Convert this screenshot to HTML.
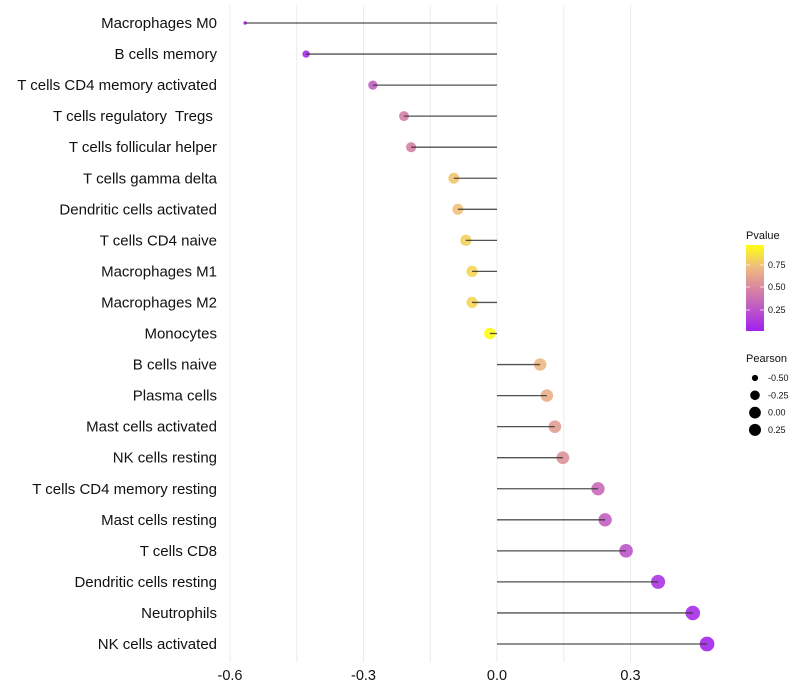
<!DOCTYPE html>
<html><head><meta charset="utf-8"><style>
html,body{margin:0;padding:0;background:#fff;}
svg{display:block;font-family:"Liberation Sans",sans-serif;}
</style></head><body>
<svg id="chart" width="800" height="700">
<defs>
<linearGradient id="pg" x1="0" y1="1" x2="0" y2="0">
<stop offset="0" stop-color="#A020F0"/>
<stop offset="0.25" stop-color="#BD55C9"/>
<stop offset="0.5" stop-color="#D8879F"/>
<stop offset="0.75" stop-color="#EFBD7E"/>
<stop offset="1" stop-color="#FFFF10"/>
</linearGradient>
</defs>
<g id="grid"></g><g id="points"></g><g id="marks"></g><g id="labels"></g>
<g>
<text x="746" y="239" font-size="11" fill="#111">Pvalue</text>
<rect x="746" y="245" width="18" height="86" fill="url(#pg)"/>
<g stroke="#fff" stroke-width="1" opacity="0.7"><line x1="746" y1="265" x2="750" y2="265"/><line x1="760" y1="265" x2="764" y2="265"/><line x1="746" y1="287" x2="750" y2="287"/><line x1="760" y1="287" x2="764" y2="287"/><line x1="746" y1="310" x2="750" y2="310"/><line x1="760" y1="310" x2="764" y2="310"/></g>
<g font-size="9" fill="#111"><text x="768" y="268">0.75</text><text x="768" y="290">0.50</text><text x="768" y="313">0.25</text></g>
</g>
<g>
<text x="746" y="362" font-size="11" fill="#111">Pearson</text>
<g id="sizeleg"></g>
</g>
</svg>
<script>
const cells=["Macrophages M0","B cells memory","T cells CD4 memory activated","T cells regulatory  Tregs ","T cells follicular helper","T cells gamma delta","Dendritic cells activated","T cells CD4 naive","Macrophages M1","Macrophages M2","Monocytes","B cells naive","Plasma cells","Mast cells activated","NK cells resting","T cells CD4 memory resting","Mast cells resting","T cells CD8","Dendritic cells resting","Neutrophils","NK cells activated"];
const pearson=[-0.566,-0.429,-0.279,-0.209,-0.193,-0.097,-0.088,-0.070,-0.056,-0.056,-0.016,0.097,0.112,0.130,0.148,0.227,0.243,0.290,0.362,0.440,0.472];
const pvalue=[0.01,0.05,0.3,0.45,0.47,0.78,0.76,0.82,0.84,0.84,0.98,0.72,0.68,0.6,0.55,0.35,0.3,0.25,0.1,0.05,0.03];
const xTicks=[-0.6,-0.3,0.0,0.3];
const xTickLabels=["-0.6","-0.3","0.0","0.3"];
const xMinor=[-0.45,-0.15,0.15];
const sizeLegVals=[-0.5,-0.25,0,0.25];
const sizeLegLabels=["-0.50","-0.25","0.00","0.25"];
const NS="http://www.w3.org/2000/svg";
const x=v=>497+v*445;
const y=i=>23+i*31.05;
const pMin=Math.min(...pearson),pMax=Math.max(...pearson);
const r=v=>{const t=Math.max(0,(v-pMin)/(pMax-pMin));return Math.sqrt(3+(54-3)*Math.sqrt(t)*0.35+(54-3)*t*0.65);};
const stops=[[0,[160,32,240]],[0.25,[189,85,201]],[0.5,[216,135,159]],[0.75,[239,189,126]],[1,[255,255,16]]];
function col(p){for(let k=1;k<stops.length;k++){if(p<=stops[k][0]){const a=stops[k-1],b=stops[k],t=(p-a[0])/(b[0]-a[0]);return "rgb("+a[1].map((c,j)=>Math.round(c+(b[1][j]-c)*t)).join(",")+")";}}return "rgb(255,255,16)";}
function mk(t,at,parent){const e=document.createElementNS(NS,t);for(const k in at)e.setAttribute(k,at[k]);parent.appendChild(e);return e;}
const grid=document.getElementById('grid'),marks=document.getElementById('marks'),points=document.getElementById('points'),labels=document.getElementById('labels');
xTicks.concat(xMinor).forEach(v=>{const l=mk('line',{x1:x(v),x2:x(v),y1:5,y2:662,stroke:'#ebebeb','stroke-width':1},grid);

});
xTicks.forEach((v,i)=>{const t=mk('text',{x:x(v),y:680,'font-size':14.5,'text-anchor':'middle',fill:'#111'},labels);t.textContent=xTickLabels[i];

});
cells.forEach((c,i)=>{
const t=mk('text',{x:217,y:y(i)+5,'font-size':15,'text-anchor':'end',fill:'#111',style:'white-space:pre'},labels);t.textContent=c;


const d=mk('circle',{cx:x(pearson[i]),cy:y(i),r:r(pearson[i]),fill:col(pvalue[i]),'fill-opacity':0.9},points);


const l=mk('line',{x1:x(0),x2:x(pearson[i]),y1:y(i),y2:y(i),stroke:'#333','stroke-width':1.3,'stroke-opacity':0.85},marks);


});
const sl=document.getElementById('sizeleg');
sizeLegVals.forEach((v,i)=>{const cy=378+i*17.3;
const d=mk('circle',{cx:755,cy:cy,r:Math.min(6,r(v)),fill:'#000'},sl);


const t=mk('text',{x:768,y:cy+3,'font-size':9,fill:'#111'},sl);t.textContent=sizeLegLabels[i];

});
</script>
</body></html>
